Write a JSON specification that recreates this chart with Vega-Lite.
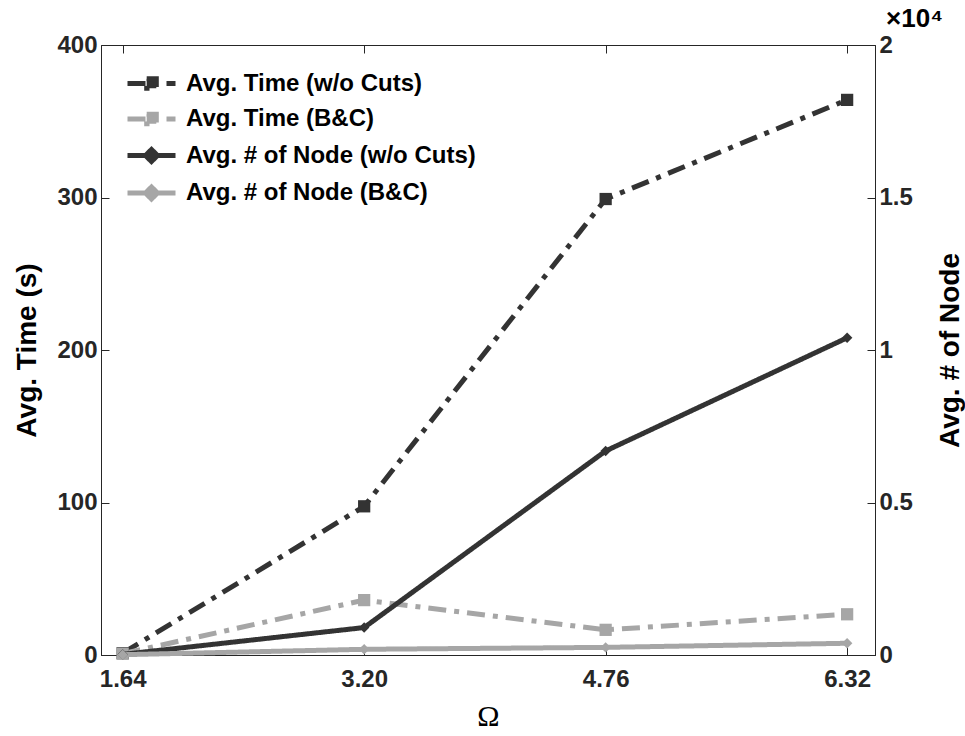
{
  "$schema": "https://vega.github.io/schema/vega-lite/v6.json",
  "width": 774,
  "height": 610,
  "autosize": "none",
  "padding": {"left": 101, "top": 45, "right": 90, "bottom": 81},
  "background": "white",
  "title": {
    "text": "×10⁴", "anchor": "end", "frame": "group", "dx": 68, "dy": 20, "offset": 0,
    "baseline": "alphabetic", "font": "Liberation Sans", "fontSize": 26, "fontWeight": "bold", "color": "#000000"
  },
  "config": {
    "view": {"stroke": "#262626", "strokeWidth": 1},
    "font": "Liberation Sans",
    "axis": {
      "grid": false,
      "domainColor": "#262626",
      "tickColor": "#262626",
      "tickSize": -8,
      "tickWidth": 1,
      "labelFont": "Liberation Sans",
      "labelFontWeight": "bold",
      "labelFontSize": 24,
      "labelColor": "#262626",
      "titleFont": "Liberation Sans",
      "titleFontWeight": "bold",
      "titleFontSize": 28,
      "titleColor": "#000000"
    }
  },
  "data": {
    "values": [
      {"omega": 1.64, "series": "Avg. Time (w/o Cuts)", "kind": "time", "value": 1.2},
      {"omega": 3.20, "series": "Avg. Time (w/o Cuts)", "kind": "time", "value": 97.5},
      {"omega": 4.76, "series": "Avg. Time (w/o Cuts)", "kind": "time", "value": 299},
      {"omega": 6.32, "series": "Avg. Time (w/o Cuts)", "kind": "time", "value": 364},
      {"omega": 1.64, "series": "Avg. Time (B&C)", "kind": "time", "value": 0.9},
      {"omega": 3.20, "series": "Avg. Time (B&C)", "kind": "time", "value": 36},
      {"omega": 4.76, "series": "Avg. Time (B&C)", "kind": "time", "value": 16.5},
      {"omega": 6.32, "series": "Avg. Time (B&C)", "kind": "time", "value": 26.7},
      {"omega": 1.64, "series": "Avg. # of Node (w/o Cuts)", "kind": "node", "value": 20},
      {"omega": 3.20, "series": "Avg. # of Node (w/o Cuts)", "kind": "node", "value": 900},
      {"omega": 4.76, "series": "Avg. # of Node (w/o Cuts)", "kind": "node", "value": 6690},
      {"omega": 6.32, "series": "Avg. # of Node (w/o Cuts)", "kind": "node", "value": 10400},
      {"omega": 1.64, "series": "Avg. # of Node (B&C)", "kind": "node", "value": 10},
      {"omega": 3.20, "series": "Avg. # of Node (B&C)", "kind": "node", "value": 187},
      {"omega": 4.76, "series": "Avg. # of Node (B&C)", "kind": "node", "value": 250},
      {"omega": 6.32, "series": "Avg. # of Node (B&C)", "kind": "node", "value": 385}
    ]
  },
  "layer": [
    {
      "encoding": {
        "x": {
          "field": "omega", "type": "quantitative",
          "scale": {"domain": [1.5, 6.5], "nice": false, "zero": false},
          "axis": {"values": [1.64, 3.2, 4.76, 6.32], "format": ".2f", "title": "Ω",
                   "titleFont": "Liberation Serif", "titleFontWeight": "normal", "titleFontSize": 30,
                   "labelPadding": 20, "titlePadding": 10}
        },
        "y": {
          "field": "value", "type": "quantitative",
          "scale": {"domain": [0, 400], "nice": false},
          "axis": {"values": [0, 100, 200, 300, 400], "title": "Avg. Time (s)", "labelPadding": 12, "titlePadding": 15}
        }
      },
      "layer": [
        {
          "transform": [{"filter": {"field": "kind", "equal": "time"}}],
          "mark": {"type": "line", "strokeWidth": 5},
          "encoding": {
            "color": {
              "field": "series", "type": "nominal",
              "scale": {"domain": ["Avg. Time (w/o Cuts)", "Avg. Time (B&C)", "Avg. # of Node (w/o Cuts)", "Avg. # of Node (B&C)"],
                        "range": ["#333333", "#a6a6a6", "#333333", "#a6a6a6"]},
              "legend": {
                "title": null, "orient": "none", "legendX": 36, "legendY": 24,
                "symbolType": "stroke", "symbolSize": 576, "symbolStrokeWidth": 5,
                "labelFontSize": 24, "labelFontWeight": "bold", "labelFont": "Liberation Sans", "labelColor": "#000000",
                "labelLimit": 0,
                "labelOffset": 20, "rowPadding": 4.5, "padding": 0,
                "encode": {
                  "symbols": {
                    "update": {
                      "shape": {"signal": "indexof(datum.value, 'Time') >= 0 ? 'M-0.4,-0.4H0.4V0.4H-0.4ZM-2,0H2' : 'M0,-0.5L0.5,0L0,0.5L-0.5,0ZM-2,0H2'"},
                      "fill": {"signal": "indexof(datum.value, 'B&C') >= 0 ? '#a6a6a6' : '#333333'"}
                    }
                  }
                }
              }
            },
            "strokeDash": {
              "field": "series", "type": "nominal",
              "scale": {"domain": ["Avg. Time (w/o Cuts)", "Avg. Time (B&C)", "Avg. # of Node (w/o Cuts)", "Avg. # of Node (B&C)"],
                        "range": [[18, 8, 5, 8], [18, 8, 5, 8], [1, 0], [1, 0]]},
              "legend": null
            }
          }
        },
        {
          "transform": [{"filter": {"field": "kind", "equal": "time"}}],
          "mark": {"type": "point", "filled": true, "shape": "square", "size": 150, "opacity": 1},
          "encoding": {
            "color": {"field": "series", "type": "nominal", "legend": null}
          }
        }
      ]
    },
    {
      "encoding": {
        "x": {
          "field": "omega", "type": "quantitative",
          "axis": {"orient": "top", "values": [1.64, 3.2, 4.76, 6.32], "labels": false, "title": null, "domain": false}
        },
        "y": {
          "field": "value", "type": "quantitative",
          "scale": {"domain": [0, 20000], "nice": false},
          "axis": {"orient": "right", "values": [0, 5000, 10000, 15000, 20000],
                   "labelExpr": "datum.value / 10000", "title": "Avg. # of Node", "titleAngle": 270,
                   "labelPadding": 12, "titlePadding": 52}
        }
      },
      "layer": [
        {
          "transform": [{"filter": {"field": "kind", "equal": "node"}}],
          "mark": {"type": "line", "strokeWidth": 5},
          "encoding": {
            "color": {"field": "series", "type": "nominal", "legend": null},
            "strokeDash": {"field": "series", "type": "nominal", "legend": null}
          }
        },
        {
          "transform": [{"filter": {"field": "kind", "equal": "node"}}],
          "mark": {"type": "point", "filled": true, "shape": "diamond", "size": 110, "opacity": 1},
          "encoding": {
            "color": {"field": "series", "type": "nominal", "legend": null}
          }
        }
      ]
    }
  ],
  "resolve": {"scale": {"y": "independent"}, "axis": {"x": "independent"}}
}
